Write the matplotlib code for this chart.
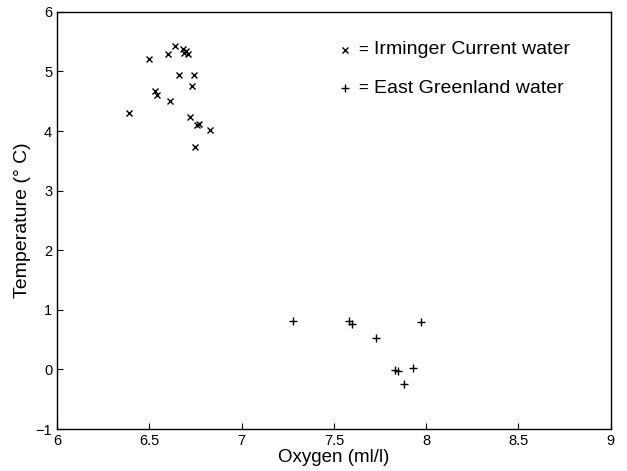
import matplotlib
matplotlib.use("Agg")
import matplotlib.pyplot as plt

plt.rcParams['font.family'] = ['Liberation Sans', 'DejaVu Sans']

# Irminger Current water (x markers)
irm_oxygen = [6.39, 6.50, 6.53, 6.54, 6.60, 6.61, 6.64, 6.66, 6.68, 6.69,
              6.70, 6.71, 6.72, 6.73, 6.74, 6.75, 6.76, 6.77, 6.83]
irm_temp = [4.31, 5.20, 4.67, 4.60, 5.30, 4.50, 5.42, 4.94, 5.38, 5.31,
            5.35, 5.30, 4.23, 4.76, 4.94, 3.74, 4.10, 4.12, 4.02]

# East Greenland water (+ markers)
eg_oxygen = [7.28, 7.58, 7.60, 7.73, 7.83, 7.85, 7.88, 7.93, 7.97]
eg_temp = [0.82, 0.82, 0.76, 0.52, -0.01, -0.03, -0.25, 0.03, 0.79]

xticks = [6, 6.5, 7, 7.5, 8, 8.5, 9]
xticklabels = ['6', '6.5', '7', '7.5', '8', '8.5', '9']
yticks = [-1, 0, 1, 2, 3, 4, 5, 6]

fig = plt.figure(figsize=(6.27, 4.71), dpi=100)
ax = fig.add_axes([0.091, 0.089, 0.883, 0.886])

ax.plot(irm_oxygen, irm_temp, 'x', color='black', markersize=4, markeredgewidth=1.0)
ax.plot(eg_oxygen, eg_temp, '+', color='black', markersize=6, markeredgewidth=1.0)

ax.set_xlim(6, 9)
ax.set_ylim(-1, 6)
ax.set_xticks(xticks)
ax.set_xticklabels(xticklabels)
ax.set_yticks(yticks)
ax.tick_params(direction='in', length=4, labelsize=10.5)
for s in ax.spines.values():
    s.set_linewidth(1.0)

ax.set_xlabel('Oxygen (ml/l)', fontsize=13.5, labelpad=1)
ax.set_ylabel('Temperature (° C)', fontsize=14, labelpad=3)

# legend drawn as text with marker glyphs
ax.plot([7.56], [5.36], 'x', color='black', markersize=4, markeredgewidth=1.0)
ax.text(7.63, 5.36, '=', fontsize=12, va='center')
ax.text(7.72, 5.36, 'Irminger Current water', fontsize=14, va='center')
ax.plot([7.56], [4.72], '+', color='black', markersize=6, markeredgewidth=1.0)
ax.text(7.63, 4.72, '=', fontsize=12, va='center')
ax.text(7.72, 4.72, 'East Greenland water', fontsize=14, va='center')

fig.savefig('out.png', dpi=100)
